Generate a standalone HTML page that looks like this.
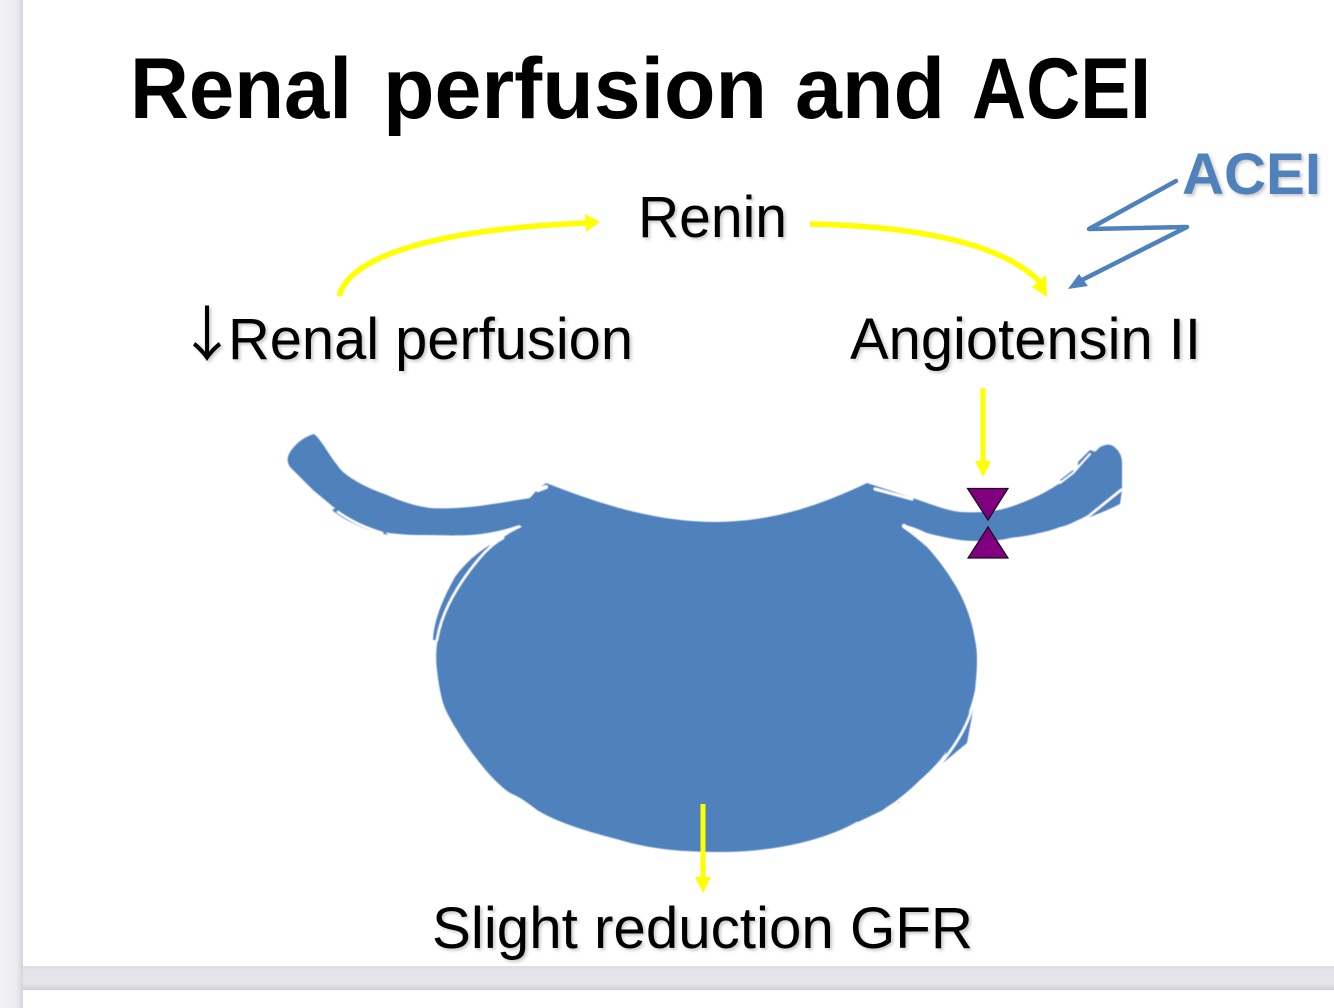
<!DOCTYPE html>
<html lang="en">
<head>
<meta charset="utf-8">
<title>Renal perfusion and ACEI</title>
<style>
html,body{margin:0;padding:0;background:#e8e8ec;}
body{width:1334px;height:1008px;overflow:hidden;position:relative;}
svg{position:absolute;left:0;top:0;display:block;}
text{font-family:"Liberation Sans",sans-serif;}
.lbl{font-size:58px;fill:#000;filter:drop-shadow(2px 2px 1.5px rgba(0,0,0,.22));}
.ttl{font-size:86px;font-weight:700;fill:#000;}
</style>
</head>
<body>
<svg width="1334" height="1008" viewBox="0 0 1334 1008" xmlns="http://www.w3.org/2000/svg">
  <defs>
    <linearGradient id="leftStrip" x1="0" x2="1" y1="0" y2="0">
      <stop offset="0" stop-color="#f1f1f6"/>
      <stop offset=".7" stop-color="#ebebf0"/>
      <stop offset="1" stop-color="#d4d4da"/>
    </linearGradient>
    <linearGradient id="gapStrip" x1="0" x2="0" y1="0" y2="1">
      <stop offset="0" stop-color="#dcdce1"/>
      <stop offset=".25" stop-color="#e6e6eb"/>
      <stop offset=".75" stop-color="#e4e4e9"/>
      <stop offset="1" stop-color="#cfcfd5"/>
    </linearGradient>
    <filter id="soft" x="-5%" y="-5%" width="110%" height="110%"><feGaussianBlur stdDeviation=".45"/></filter>
  </defs>

  <rect x="0" y="0" width="23" height="1008" fill="url(#leftStrip)"/>
  <rect x="23" y="966" width="1311" height="24" fill="url(#gapStrip)"/>
  <rect x="23" y="0" width="1311" height="966" fill="#ffffff"/>
  <rect x="23" y="990" width="1311" height="18" fill="#ffffff"/>

  <!-- Title -->
  <text class="ttl" x="130" y="118" textLength="222" lengthAdjust="spacingAndGlyphs">Renal</text>
  <text class="ttl" x="383" y="118" textLength="384" lengthAdjust="spacingAndGlyphs">perfusion</text>
  <text class="ttl" x="795" y="118" textLength="150" lengthAdjust="spacingAndGlyphs">and</text>
  <text class="ttl" x="972" y="118" textLength="179" lengthAdjust="spacingAndGlyphs">ACEI</text>

  <g filter="url(#soft)">
    <!-- Outer slivers (beneath the white gaps) -->
    <g fill="#4f81bd">
      <path d="M332 510 C345 521 365 530 388 535 L375 522 L340 506 Z"/>
      <path d="M433 640 C434 618 445 595 455 577 C465 563 478 552 490 545 L500 545 L450 610 L440 640 Z"/>
      <path d="M1078 462 L1090 450 L1096 452 L1078 470 Z"/>
      <path d="M1060 480 L1073 470 L1078 474 L1064 484 Z"/>
      <path d="M1122 490 L1120 504 C1110 509 1098 514 1090 517 L1085 510 L1115 490 Z"/>
      <path d="M974 705 L967 743 L943 763 L950 740 Z"/>
      <path d="M900 802 L858 822 L855 818 L895 798 Z"/>
    </g>

    <!-- Kidney / glomerulus shape -->
    <path fill="#4f81bd" d="M314 434 C322 440 330 458 343 472 C355 482 372 490 387 495 C402 502 416 506 430 508 C445 509 458 508 470 507 C490 505 512 501 530 498 L537 490 L546 483
             C600 504 655 522 715 522 C775 522 825 503 867 483
             L913 498 C930 504 945 510 960 512 C978 513 992 512 1007 508 C1026 502 1044 494 1060 483 C1075 472 1090 457 1100 447 C1106 444 1110 444 1113 446 C1119 450 1122 456 1122 463 L1122 488 C1112 497 1105 504 1096 510 C1090 514 1083 518 1076 521 C1070 524 1065 526 1060 527 C1050 531 1043 532 1035 534 C1027 536 1018 537 1010 538 C1002 540 993 541 985 541 C977 541 968 541 960 540 C948 538 938 536 927 533 C920 530 912 526 903 525 L903 528
             C912 534 920 541 927 547 C937 558 946 570 952 580 C964 598 972 620 975 640 C977 650 977 655 977 660 C977 670 976 680 975 690 C972 705 967 718 960 730 C955 740 948 750 940 760 C934 767 927 774 920 780 C912 788 903 796 893 803 C882 810 870 815 860 820 C830 838 780 852 720 852 C680 852 650 849 620 840 C590 832 560 824 537 810 C528 803 520 797 510 793 C495 783 478 762 463 740 C455 727 447 715 443 703 C440 692 438 680 437 670 C435 655 437 640 440 630 C445 612 455 590 470 570 C482 555 500 536 522 527
             L519 525 C505 530 488 534 470 535 C450 536 435 535 420 535 C408 535 395 534 383 532 C365 526 350 518 337 510 L313 490 L290 467 C287 462 287 458 289 454 C294 445 303 437 314 434 Z"/>

    <!-- White gaps -->
    <g fill="none" stroke="#ffffff" stroke-linecap="round">
      <path d="M875 489 L912 499" stroke-width="3"/>
      <path d="M546 487 L538 490" stroke-width="4"/>
      <path d="M904 526 C910 529 915 532 920 537" stroke-width="4"/>
      <path d="M437 640 C441 614 455 590 470 570 C480 557 490 545 503 538" stroke-width="2.5"/>
      <path d="M338 512 C352 522 366 528 382 533" stroke-width="2.5"/>
      <path d="M1060 483 L1073 473 L1080 465 L1090 454" stroke-width="2"/>
      <path d="M1121 490 L1090 515" stroke-width="2.5"/>
      <path d="M976 695 C970 722 958 742 942 762 C925 782 905 797 885 810" stroke-width="2.5"/>
    </g>
  </g>

  <!-- Yellow arrows -->
  <g fill="none" stroke="#ffff00" stroke-width="5.5">
    <path d="M339 296 C352 250 460 228 587 223"/>
    <path d="M810 224 C905 226 1000 240 1041 283"/>
  </g>
  <g fill="none" stroke="#ffff00" stroke-width="5">
    <path d="M983 388 L983 465"/>
    <path d="M703 804 L703 880"/>
  </g>
  <g fill="#ffff00">
    <path d="M600 222 L585 214 L586 232 Z"/>
    <path d="M1047 297 L1032 287 L1046 275 Z"/>
    <path d="M983 477 L975 461 L991 461 Z"/>
    <path d="M703 893 L695 877 L711 877 Z"/>
  </g>

  <!-- Purple valves -->
  <g fill="#800080" stroke="#1a0a1a" stroke-width="1.2" stroke-linejoin="miter">
    <path d="M967.5 488.5 L1008 488.5 L988 520 Z"/>
    <path d="M988 527 L968 558 L1008 558 Z"/>
  </g>

  <!-- ACEI zigzag -->
  <path d="M1176 181 L1089 229 L1187 227 L1080 281" fill="none" stroke="#4f81bd" stroke-width="4.5" stroke-linejoin="round" stroke-linecap="round"/>
  <path d="M1068 289 L1079 274 L1088 286 Z" fill="#4f81bd"/>

  <!-- Labels -->
  <text class="lbl" x="177" y="356" style="font-family:'Noto Sans CJK JP',sans-serif;font-size:60px">↓</text>
  <text class="lbl" x="638" y="237" textLength="149" lengthAdjust="spacingAndGlyphs">Renin</text>
  <text class="lbl" x="228" y="359" textLength="405" lengthAdjust="spacingAndGlyphs">Renal perfusion</text>
  <text class="lbl" x="850" y="359" textLength="351" lengthAdjust="spacingAndGlyphs">Angiotensin II</text>
  <text class="lbl" x="432" y="948" textLength="541" lengthAdjust="spacingAndGlyphs">Slight reduction GFR</text>
  <text x="1182" y="194" font-size="58" font-weight="700" fill="#4f81bd" style="filter:drop-shadow(2px 2px 1.5px rgba(0,0,0,.22))" textLength="139" lengthAdjust="spacingAndGlyphs">ACEI</text>
</svg>
</body>
</html>
